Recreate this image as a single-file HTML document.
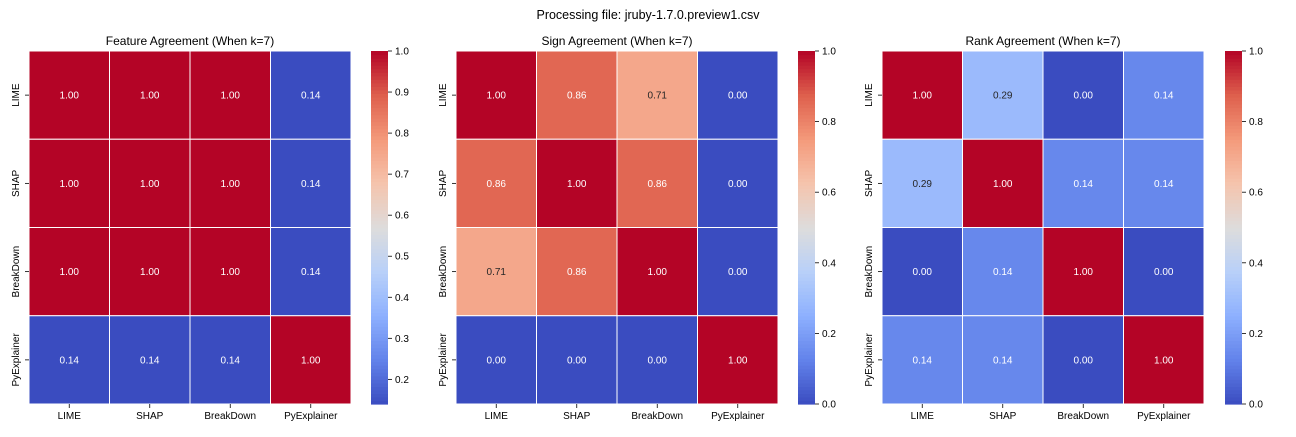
<!DOCTYPE html>
<html><head><meta charset="utf-8"><style>
body{margin:0;background:#fff;width:1296px;height:432px;overflow:hidden;font-family:"Liberation Sans","DejaVu Sans",sans-serif}
</style></head><body>
<svg id="fig" width="1296" height="432" xmlns="http://www.w3.org/2000/svg" font-family="Liberation Sans, DejaVu Sans, sans-serif">
<text x="648" y="19" text-anchor="middle" font-size="12.5" fill="#000">Processing file: jruby-1.7.0.preview1.csv</text>
</svg>
<script>
const methods = ["LIME","SHAP","BreakDown","PyExplainer"];
const titles = ["Feature Agreement (When k=7)","Sign Agreement (When k=7)","Rank Agreement (When k=7)"];
const featureValues = [[1,1,1,0.14],[1,1,1,0.14],[1,1,1,0.14],[0.14,0.14,0.14,1]];
const signValues = [[1,0.86,0.71,0],[0.86,1,0.86,0],[0.71,0.86,1,0],[0,0,0,1]];
const rankValues = [[1,0.29,0,0.14],[0.29,1,0.14,0.14],[0,0.14,1,0],[0.14,0.14,0,1]];
const featureTicks = [0.2,0.3,0.4,0.5,0.6,0.7,0.8,0.9,1.0];
const unitTicks = [0,0.2,0.4,0.6,0.8,1.0];

const svg = document.getElementById('fig');
const NS = "http://www.w3.org/2000/svg";
function mk(tag, attrs, parent){const e=document.createElementNS(NS,tag);for(const k in attrs)e.setAttribute(k,attrs[k]);(parent||svg).appendChild(e);return e;}
const cmap=[[0,[58,76,192]],[0.125,[98,130,234]],[0.25,[141,176,254]],[0.375,[184,208,249]],[0.5,[221,220,220]],[0.625,[245,196,173]],[0.75,[244,154,123]],[0.875,[222,96,77]],[1,[180,4,38]]];
function color(t){t=Math.max(0,Math.min(1,t));for(let i=1;i<cmap.length;i++){if(t<=cmap[i][0]){const a=cmap[i-1],b=cmap[i];const f=(t-a[0])/(b[0]-a[0]);return a[1].map((c,j)=>Math.round(c+(b[1][j]-c)*f));}}return cmap[8][1];}
function rgb(c){return `rgb(${c[0]},${c[1]},${c[2]})`;}
function lum(c){const l=c.map(v=>{v/=255;return v<=0.03928?v/12.92:Math.pow((v+0.055)/1.055,2.4)});return 0.2126*l[0]+0.7152*l[1]+0.0722*l[2];}

const panels=[
 {x0:29,cb:371,vals:featureValues,vmin:0.14,vmax:1,ticks:featureTicks,name:'feature'},
 {x0:456,cb:798,vals:signValues,vmin:0,vmax:1,ticks:unitTicks,name:'sign'},
 {x0:882,cb:1225,vals:rankValues,vmin:0,vmax:1,ticks:unitTicks,name:'rank'}];
const y0=51,H=353,W=322,n=methods.length;
panels.forEach((p,pi)=>{
  const g=mk('g',{});
  
  
  const cw=W/n,ch=H/n;
  const xs=i=>p.x0+i*cw, ys=i=>y0+i*ch;
  const norm=v=>(v-p.vmin)/(p.vmax-p.vmin);
  const t=mk('text',{x:p.x0+W/2,y:45,'text-anchor':'middle','font-size':12},g);t.textContent=titles[pi];
  
  
  p.vals.forEach((row,r)=>row.forEach((v,c)=>{
    const col=color(norm(v));
    const rc=mk('rect',{x:xs(c),y:ys(r),width:cw,height:ch,fill:rgb(col),stroke:'#fff','stroke-width':1},g);
    
    
    const tx=mk('text',{x:xs(c)+cw/2,y:ys(r)+ch/2+3.5,'text-anchor':'middle','font-size':10,fill:lum(col)>0.408?'#262626':'#fff'},g);
    tx.textContent=v.toFixed(2);
    
    
  }));
  methods.forEach((m,i)=>{
    mk('line',{x1:xs(i)+cw/2,x2:xs(i)+cw/2,y1:y0+H,y2:y0+H+4,stroke:'#000','stroke-width':0.8},g);
    const xl=mk('text',{x:xs(i)+cw/2,y:y0+H+15,'text-anchor':'middle','font-size':10},g);xl.textContent=m;
    
    
    mk('line',{x1:p.x0-4,x2:p.x0,y1:ys(i)+ch/2,y2:ys(i)+ch/2,stroke:'#000','stroke-width':0.8},g);
    const yy=ys(i)+ch/2, xx=p.x0-10;
    const yl=mk('text',{x:xx,y:yy,'text-anchor':'middle','font-size':10,transform:`rotate(-90 ${xx} ${yy})`},g);yl.textContent=m;
    
    
  });
  // colorbar
  const cbw=17, steps=100;
  for(let k=0;k<steps;k++){
    const f=k/steps;
    mk('rect',{x:p.cb,y:y0+H-(k+1)*H/steps,width:cbw,height:H/steps+0.6,fill:rgb(color(f+0.5/steps))},g);
  }
  const cbf=mk('rect',{x:p.cb,y:y0,width:cbw,height:H,fill:'none',stroke:'none'},g);
  
  
  p.ticks.forEach(v=>{
    const y=y0+H-norm(v)*H;
    mk('line',{x1:p.cb+cbw,x2:p.cb+cbw+4,y1:y,y2:y,stroke:'#000','stroke-width':0.8},g);
    const tl=mk('text',{x:p.cb+cbw+7,y:y+3.5,'font-size':10},g);tl.textContent=v.toFixed(1);
    
    
  });
});
</script>
</body></html>
